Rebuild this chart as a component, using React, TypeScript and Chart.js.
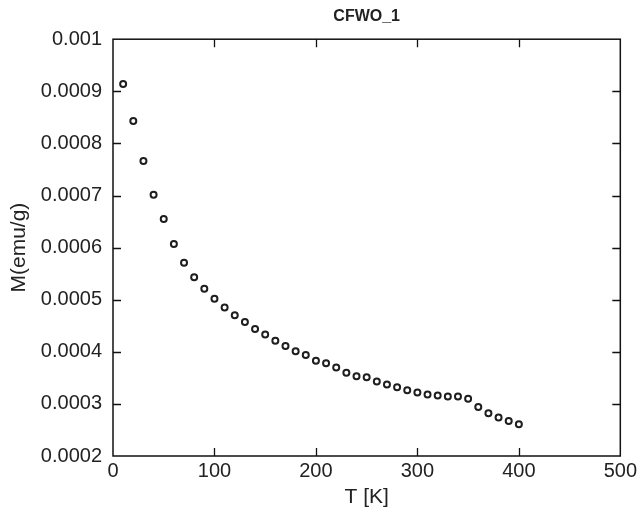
import React, { useEffect, useRef } from "react";
import { Chart, registerables } from "chart.js";

Chart.register(...registerables);

const TITLE = "CFWO_1";
const X_LABEL = "T [K]";
const Y_LABEL = "M(emu/g)";

const TEMPERATURE_K = [
  10, 20, 30, 40, 50, 60, 70, 80, 90, 100,
  110, 120, 130, 140, 150, 160, 170, 180, 190, 200,
  210, 220, 230, 240, 250, 260, 270, 280, 290, 300,
  310, 320, 330, 340, 350, 360, 370, 380, 390, 400,
];

const MAGNETIZATION = [
  0.000914, 0.000843, 0.000766, 0.0007015, 0.000655, 0.000607, 0.000571, 0.000543, 0.000521, 0.000502,
  0.000485, 0.00047, 0.000457, 0.000444, 0.000433, 0.000421, 0.000411, 0.000401, 0.000394, 0.000383,
  0.000378, 0.00037, 0.00036, 0.000353, 0.000351, 0.000343, 0.000337, 0.000332, 0.000326, 0.000322,
  0.000318, 0.000316, 0.000314, 0.000314, 0.00031, 0.000294, 0.000282, 0.000274, 0.000267, 0.000261,
];

const X_TICK_LABELS = ["0", "100", "200", "300", "400", "500"];
const Y_TICK_LABELS = ["0.0002", "0.0003", "0.0004", "0.0005", "0.0006", "0.0007", "0.0008", "0.0009", "0.001"];

const FONT = "'Liberation Sans', Arial, Helvetica, sans-serif";
const TEXT = "#222";

const framePlugin = {
  id: "frameTicks",
  afterDatasetsDraw(chart: any) {
    const { ctx, chartArea, scales } = chart;
    const { left, right, top, bottom } = chartArea;
    const x = scales.x;
    const y = scales.y;
    const len = 8;
    ctx.save();
    ctx.strokeStyle = "#111";
    ctx.lineWidth = 1.3;
    ctx.beginPath();
    x.ticks.forEach((_t: any, i: number) => {
      const px = Math.round(x.getPixelForTick(i)) + 0.5;
      if (px - left < 2 || right - px < 2) return;
      ctx.moveTo(px, bottom);
      ctx.lineTo(px, bottom - len);
      ctx.moveTo(px, top);
      ctx.lineTo(px, top + len);
    });
    y.ticks.forEach((_t: any, i: number) => {
      const py = Math.round(y.getPixelForTick(i)) + 0.5;
      if (py - top < 2 || bottom - py < 2) return;
      ctx.moveTo(left, py);
      ctx.lineTo(left + len, py);
      ctx.moveTo(right, py);
      ctx.lineTo(right - len, py);
    });
    ctx.stroke();
    ctx.lineWidth = 1.5;
    ctx.strokeRect(left, top, right - left, bottom - top);
    ctx.restore();
  },
};

export default function App() {
  const ref = useRef<HTMLCanvasElement | null>(null);

  useEffect(() => {
    if (!ref.current) return;
    const points = TEMPERATURE_K.map((t, i) => ({ x: t, y: MAGNETIZATION[i] }));
    const chart = new Chart(ref.current, {
      type: "scatter",
      data: {
        datasets: [
          {
            data: points,
            pointRadius: 3,
            pointBorderWidth: 2,
            pointBorderColor: "#1e1e1e",
            pointBackgroundColor: "#ffffff",
            showLine: false,
          },
        ],
      },
      options: {
        responsive: false,
        animation: false,
        layout: { padding: { left: 0, right: 19, top: 0, bottom: 0 } },
        plugins: {
          legend: { display: false },
          tooltip: { enabled: false },
          title: {
            display: true,
            fullSize: false,
            text: TITLE,
            color: TEXT,
            font: { family: FONT, size: 16, weight: "bold" },
            padding: { top: 7, bottom: 13 },
          },
        },
        scales: {
          x: {
            type: "linear",
            min: 0,
            max: 500,
            ticks: {
              stepSize: 100,
              color: TEXT,
              font: { family: FONT, size: 20 },
              padding: 3,
              maxRotation: 0,
              callback: (_v: any, i: number) => X_TICK_LABELS[i],
            },
            grid: { display: false, drawTicks: false },
            border: { display: false },
            title: {
              display: true,
              text: X_LABEL,
              color: TEXT,
              font: { family: FONT, size: 21 },
              padding: { top: 0, bottom: 6 },
            },
            afterFit: (s: any) => {
              s.height = 60;
            },
          },
          y: {
            type: "linear",
            min: 0.0002,
            max: 0.001,
            ticks: {
              stepSize: 0.0001,
              color: TEXT,
              font: { family: FONT, size: 20 },
              padding: 11,
              callback: (_v: any, i: number) => Y_TICK_LABELS[i],
            },
            grid: { display: false, drawTicks: false },
            border: { display: false },
            title: {
              display: true,
              text: Y_LABEL,
              color: TEXT,
              font: { family: FONT, size: 21 },
              padding: { top: 7, bottom: 0 },
            },
            afterFit: (s: any) => {
              s.width = 113;
            },
          },
        },
      },
      plugins: [framePlugin],
    });
    return () => chart.destroy();
  }, []);

  return (
    <canvas
      ref={ref}
      width={640}
      height={516}
      style={{ position: "absolute", left: 0, top: 0, width: 640, height: 516 }}
    />
  );
}
